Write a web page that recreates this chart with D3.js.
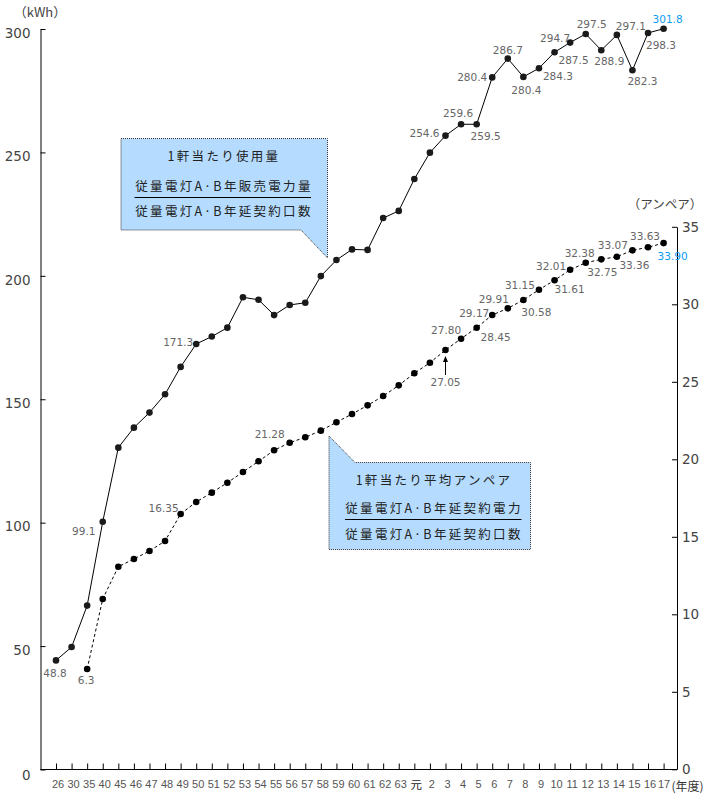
<!DOCTYPE html>
<html>
<head>
<meta charset="utf-8">
<script src="https://cdn.jsdelivr.net/npm/d3@7"></script>
<style>
  html, body { margin: 0; padding: 0; background: #fff; }
  svg { display: block; }
</style>
</head>
<body>
<svg id="chart" width="717" height="804"></svg>
<script>
// ---------- data ----------
const years = ["26","30","35","40","45","46","47","48","49","50","51","52","53","54","55","56","57","58","59","60",
  "61","62","63","元","2","3","4","5","6","7","8","9","10","11","12","13","14","15","16","17"];

// 1軒当たり使用量 (kWh) – as drawn
const usage = [44.2, 49.6, 66.4, 100.4, 130.4, 138.5, 144.6, 152.0, 163.1, 172.4,
  175.4, 179.0, 191.3, 190.3, 184.1, 188.2, 189.1, 199.9, 206.4, 210.7,
  210.5, 223.4, 226.3, 239.2, 249.9, 256.8, 261.4, 261.4, 280.4, 288.0,
  280.6, 284.1, 290.6, 294.5, 298.0, 291.4, 297.6, 283.3, 298.4, 300.1];

// 1軒当たり平均アンペア (A) – as drawn
const ampere = [null, null, 6.47, 10.99, 13.07, 13.57, 14.08, 14.73, 16.47, 17.25,
  17.85, 18.49, 19.18, 19.87, 20.58, 21.07, 21.42, 21.85, 22.39, 22.92,
  23.48, 24.08, 24.77, 25.55, 26.23, 27.05, 27.78, 28.49, 29.31, 29.74,
  30.28, 30.94, 31.55, 32.23, 32.68, 32.90, 33.07, 33.48, 33.68, 33.95];

// data labels printed on the chart
const usageLabels = ["48.8","","","99.1","","","","","","171.3",
  "","","","","","","","","","",
  "","","","","","254.6","259.6","259.5","280.4","286.7",
  "280.4","284.3","287.5","294.7","297.5","288.9","297.1","282.3","298.3","301.8"];
const ampereLabels = ["","","6.3","","","","","","16.35","",
  "","","","","","21.28","","","","",
  "","","","","","27.05","27.80","28.45","29.17","29.91",
  "30.58","31.15","31.61","32.01","32.38","32.75","33.07","33.36","33.63","33.90"];

const leftTicks = [0, 50, 100, 150, 200, 250, 300];
const rightTicks = [0, 5, 10, 15, 20, 25, 30, 35];

// ---------- layout (label offsets relative to points) ----------
const usageLabelOffset = {
  0:[-1,13], 3:[-19,9], 9:[-18,-2], 25:[-21,-3], 26:[-3,-11], 27:[9,12], 28:[-20,0], 29:[0,-9],
  30:[3,13], 31:[19,8], 32:[19,8], 33:[-15,-5], 34:[6,-10], 35:[8,11], 36:[14,-9], 37:[10,11],
  38:[13,12], 39:[4,-10]
};
const ampereLabelOffset = {
  2:[-1,11], 8:[-17,-6], 15:[-20,-9], 25:[0,32], 26:[-15,-9], 27:[19,9], 28:[-18,-2], 29:[-14,-9],
  30:[13,12], 31:[-19,-5], 32:[15,9], 33:[-19,-4], 34:[-6,-10], 35:[1,13], 36:[-4,-12], 37:[2,15],
  38:[-3,-11], 39:[9,13]
};
const highlightIdx = 39;

const svg = d3.select("#chart");
const numFont = "'DejaVu Sans', 'Liberation Sans', sans-serif";
const jpFont = "'Noto Sans CJK JP', 'Noto Sans', sans-serif";

const x = d3.scalePoint().domain(years).range([56, 663.6]);
const y1 = d3.scaleLinear().domain([0, 300]).range([769.5, 29]);
const y2 = d3.scaleLinear().domain([0, 35]).range([769.3, 226.8]);

const axisX0 = 40.5, axisX1 = 677;

// ---------- axes ----------
const gl = svg.append("g").attr("transform", `translate(${axisX0},0)`)
  .call(d3.axisLeft(y1).tickValues(leftTicks).tickSize(-5).tickSizeOuter(0).tickPadding(10));
gl.select(".domain").attr("stroke", "#000");
gl.selectAll(".tick line").attr("stroke", "#000");
gl.selectAll(".tick text").attr("font-family", numFont).attr("font-size", 13.5)
  .attr("fill", "#444").attr("dy", "0.32em").attr("y", d => d === 0 ? 6 : 4);

const gr = svg.append("g").attr("transform", `translate(${axisX1},0)`)
  .call(d3.axisRight(y2).tickValues(rightTicks).tickSize(-5).tickSizeOuter(0).tickPadding(5));
gr.select(".domain").attr("stroke", "#000");
gr.selectAll(".tick line").attr("stroke", "#000");
gr.selectAll(".tick text").attr("font-family", numFont).attr("font-size", 13.5)
  .attr("fill", "#444").attr("dy", "0.32em");

const gx = svg.append("g").attr("transform", `translate(0,${y1(0)})`)
  .call(d3.axisBottom(x).tickSize(-6).tickSizeOuter(0).tickPadding(11));
gx.select(".domain").remove();
gx.selectAll(".tick line").attr("stroke", "#000");
gx.selectAll(".tick text").attr("font-family", d => d === "元" ? jpFont : "'Liberation Sans', Arial, sans-serif")
  .attr("font-size", d => d === "元" ? 11.5 : 11)
  .attr("fill", d => d === "元" ? "#222" : "#555")
  .attr("dx", d => d === "17" ? 0 : 1.5);
svg.append("line").attr("x1", axisX0).attr("x2", axisX1)
  .attr("y1", y1(0)).attr("y2", y1(0)).attr("stroke", "#000");

// axis titles
svg.append("text").attr("x", 40).attr("y", 11).attr("text-anchor", "middle")
  .attr("dominant-baseline", "central").attr("font-family", jpFont).attr("font-size", 13)
  .attr("fill", "#444").text("（kWh）");
svg.append("text").attr("x", 665).attr("y", 203).attr("text-anchor", "middle")
  .attr("dominant-baseline", "central").attr("font-family", jpFont).attr("font-size", 12.5)
  .attr("fill", "#444").text("（アンペア）");
svg.append("text").attr("x", 671.5).attr("y", 785).attr("text-anchor", "start")
  .attr("dominant-baseline", "central").attr("font-family", jpFont).attr("font-size", 12)
  .attr("fill", "#333").text("(年度)");

// ---------- callout boxes ----------
function callout(points, lines, cx, ys, lineY, lineX0, lineX1) {
  svg.append("path")
    .attr("d", d3.line()(points) + "Z")
    .attr("fill", "#b5dcff").attr("stroke", "#333").attr("stroke-width", 1)
    .attr("stroke-dasharray", "1,1");
  lines.forEach((t, k) => {
    svg.append("text").attr("x", cx).attr("y", ys[k]).attr("text-anchor", "middle")
      .attr("dominant-baseline", "central").attr("font-family", jpFont).attr("font-size", 12.5)
      .attr("letter-spacing", "2.3px").attr("fill", "#222").text(t);
  });
  svg.append("line").attr("x1", lineX0).attr("x2", lineX1).attr("y1", lineY).attr("y2", lineY)
    .attr("stroke", "#000");
}
callout([[121,138.5],[327.5,138.5],[327.5,258],[301,230],[121,230]],
  ["1軒当たり使用量", "従量電灯A·B年販売電力量", "従量電灯A·B年延契約口数"],
  224, [155, 185, 210], 197.5, 134.5, 311);
callout([[329,436],[355,462.5],[530.5,462.5],[530.5,549.5],[329,549.5]],
  ["1軒当たり平均アンペア", "従量電灯A·B年延契約電力", "従量電灯A·B年延契約口数"],
  434, [479.5, 507.5, 533], 519.5, 345, 521.5);

// ---------- series ----------
const usageData = years.map((yr, i) => ({ yr, i, v: usage[i] }));
const ampData = years.map((yr, i) => ({ yr, i, v: ampere[i] })).filter(d => d.v != null);

svg.append("path").datum(usageData)
  .attr("d", d3.line().x(d => x(d.yr)).y(d => y1(d.v)))
  .attr("fill", "none").attr("stroke", "#000").attr("stroke-width", 1);
svg.append("path").datum(ampData)
  .attr("d", d3.line().x(d => x(d.yr)).y(d => y2(d.v)))
  .attr("fill", "none").attr("stroke", "#000").attr("stroke-width", 1)
  .attr("stroke-dasharray", "3,2.5");

svg.append("g").selectAll("circle").data(usageData).join("circle")
  .attr("cx", d => x(d.yr)).attr("cy", d => y1(d.v)).attr("r", 3.3).attr("fill", "#1a1a1a");
svg.append("g").selectAll("circle").data(ampData).join("circle")
  .attr("cx", d => x(d.yr)).attr("cy", d => y2(d.v)).attr("r", 3.3).attr("fill", "#000");

// ---------- data labels ----------
function labels(data, texts, offsets, yScale) {
  svg.append("g").selectAll("text")
    .data(data.filter(d => texts[d.i]))
    .join("text")
    .attr("x", d => x(d.yr) + offsets[d.i][0])
    .attr("y", d => yScale(d.v) + offsets[d.i][1])
    .attr("text-anchor", "middle").attr("dominant-baseline", "central")
    .attr("font-family", numFont).attr("font-size", 10.5)
    .attr("fill", d => d.i === highlightIdx ? "#0b9bf2" : "#666")
    .text(d => texts[d.i]);
}
labels(usageData, usageLabels, usageLabelOffset, y1);
labels(ampData, ampereLabels, ampereLabelOffset, y2);

// arrow for 27.05
const arrowPt = ampData.find(d => d.yr === "3");
const ax = x(arrowPt.yr), ay = y2(arrowPt.v);
svg.append("line").attr("x1", ax).attr("x2", ax).attr("y1", ay + 10).attr("y2", ay + 25)
  .attr("stroke", "#000");
svg.append("path").attr("d", `M${ax},${ay + 6}L${ax - 2.5},${ay + 12}L${ax + 2.5},${ay + 12}Z`)
  .attr("fill", "#000");
</script>
</body>
</html>
